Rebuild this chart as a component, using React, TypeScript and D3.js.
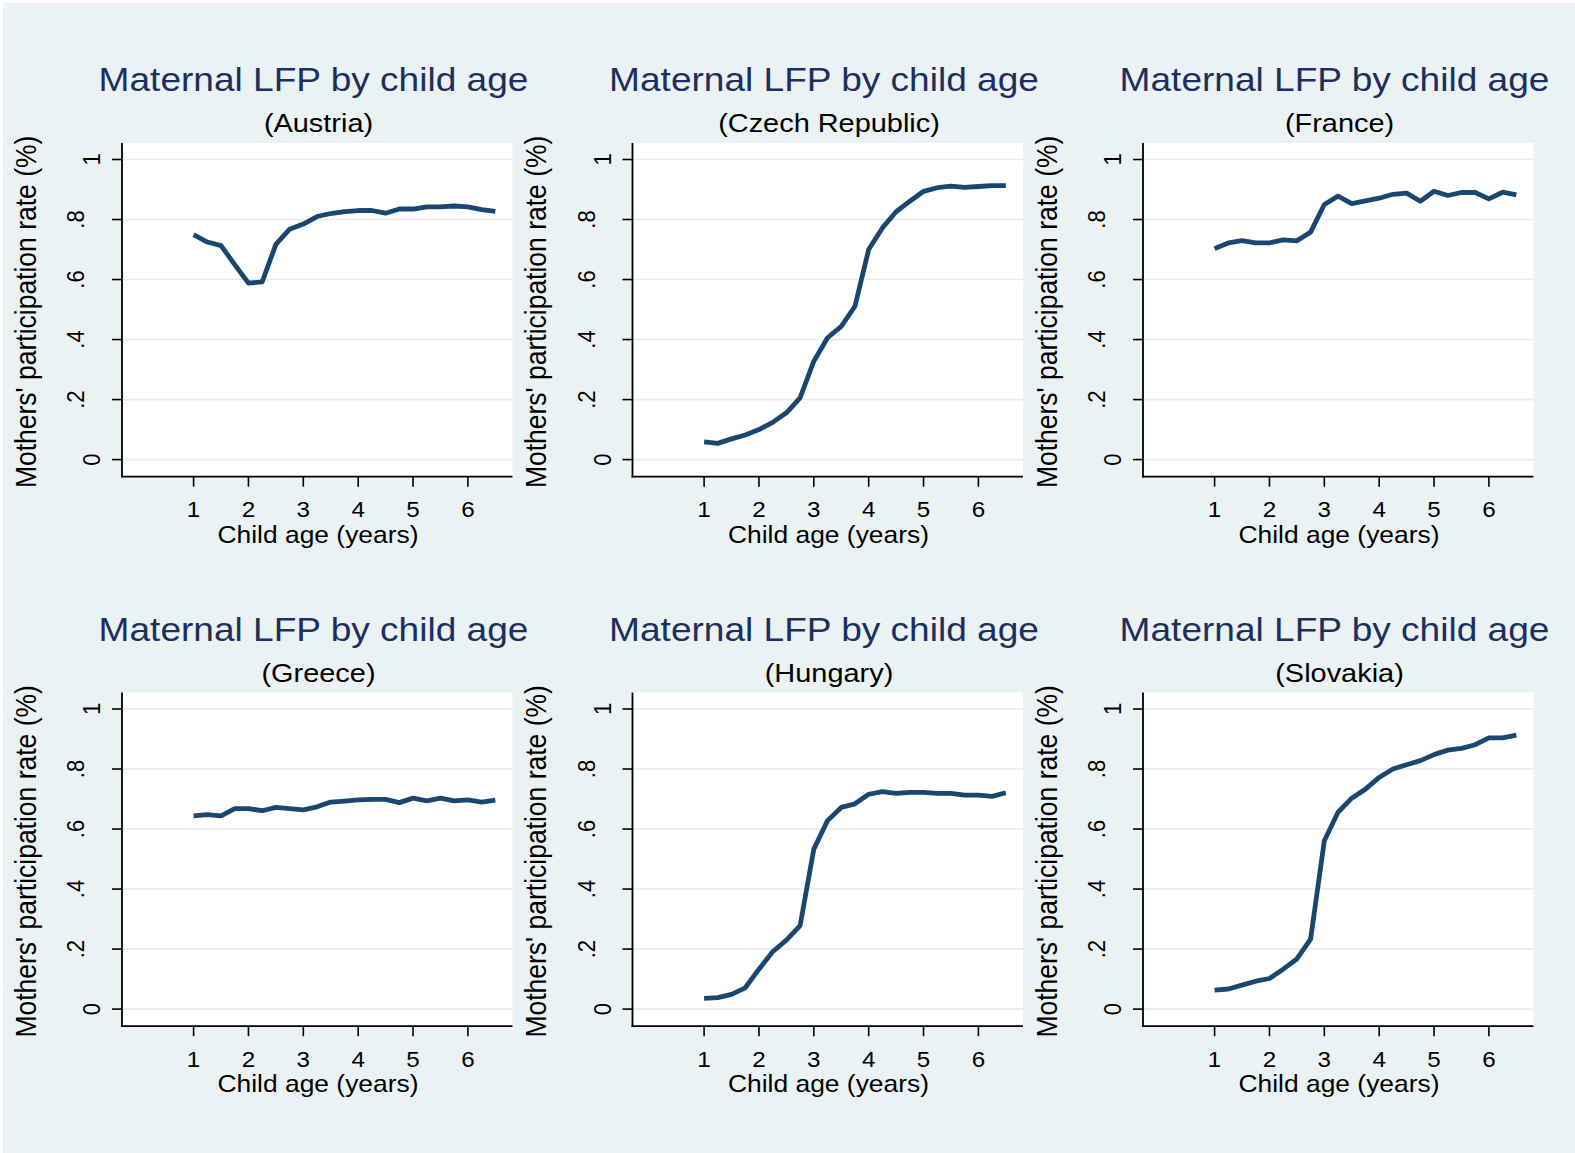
import React from "react";
import * as d3 from "d3";

// ---- data ----
const ages = [1, 1.25, 1.5, 1.75, 2, 2.25, 2.5, 2.75, 3, 3.25, 3.5, 3.75, 4, 4.25, 4.5, 4.75, 5, 5.25, 5.5, 5.75, 6, 6.25, 6.5];
const countries = ["Austria", "Czech Republic", "France", "Greece", "Hungary", "Slovakia"];
const austria = [0.75, 0.725, 0.713, 0.65, 0.588, 0.592, 0.717, 0.768, 0.785, 0.81, 0.82, 0.826, 0.83, 0.83, 0.821, 0.835, 0.835, 0.842, 0.842, 0.845, 0.842, 0.833, 0.827];
const czech = [0.059, 0.054, 0.069, 0.082, 0.1, 0.124, 0.156, 0.206, 0.328, 0.406, 0.444, 0.511, 0.7, 0.772, 0.826, 0.861, 0.894, 0.906, 0.911, 0.907, 0.91, 0.913, 0.913];
const france = [0.703, 0.722, 0.73, 0.722, 0.722, 0.732, 0.729, 0.758, 0.85, 0.878, 0.853, 0.862, 0.871, 0.884, 0.888, 0.861, 0.894, 0.88, 0.89, 0.89, 0.869, 0.891, 0.882];
const greece = [0.644, 0.648, 0.644, 0.668, 0.668, 0.661, 0.672, 0.668, 0.664, 0.674, 0.69, 0.693, 0.697, 0.699, 0.699, 0.688, 0.703, 0.694, 0.703, 0.694, 0.697, 0.69, 0.696];
const hungary = [0.036, 0.038, 0.049, 0.071, 0.133, 0.191, 0.23, 0.278, 0.533, 0.628, 0.672, 0.684, 0.716, 0.725, 0.719, 0.722, 0.722, 0.719, 0.719, 0.713, 0.713, 0.709, 0.721];
const slovakia = [0.063, 0.067, 0.08, 0.093, 0.102, 0.133, 0.167, 0.233, 0.561, 0.656, 0.703, 0.733, 0.772, 0.8, 0.814, 0.828, 0.848, 0.863, 0.869, 0.881, 0.904, 0.904, 0.913];
const seriesList = [austria, czech, france, greece, hungary, slovakia];
const xTicks = [1, 2, 3, 4, 5, 6];
const yTicks = [0, 0.2, 0.4, 0.6, 0.8, 1];
const yTickLabels = ["0", ".2", ".4", ".6", ".8", "1"];
const titleText = "Maternal LFP by child age";
const xTitle = "Child age (years)";
const yTitle = "Mothers' participation rate (%)";

// ---- layout ----
const W = 1575;
const H = 1153;
const colX = [0, 510.5, 1021];
const rowY = [0, 549.5];
const PL = 122, PR = 512.5, PT = 143, PB = 476.7;
const FONT = "'Liberation Sans', Arial, Helvetica, sans-serif";
const SX = 1.1;
const BG = "#eaf2f3";
const LINE = "#1a476f";
const TITLE_C = "#1c2f5e";

const xScale = d3.scaleLinear().domain([-0.305, 6.813]).range([PL, PR]);
const yScale = d3.scaleLinear().domain([-0.057, 1.055]).range([PB, PT]);

function Panel({ idx }: { idx: number }) {
  const col = idx % 3;
  const row = Math.floor(idx / 3);
  const ox = colX[col];
  const oy = rowY[row];
  const vals = seriesList[idx];
  const pts = ages.map((a, i) => [a, vals[i]] as [number, number]);
  const line = d3
    .line<[number, number]>()
    .x((d) => xScale(d[0]))
    .y((d) => yScale(d[1]));
  const yMid = (PT + PB) / 2;
  return (
    <g transform={`translate(${ox},${oy})`}>
      <rect x={PL} y={PT} width={PR - PL} height={PB - PT} fill="#ffffff" />
      {yTicks.map((t) => (
        <line key={"g" + t} x1={PL} x2={PR} y1={yScale(t)} y2={yScale(t)} stroke="#e4ecef" strokeWidth={1.6} />
      ))}
      <path d={line(pts) || ""} fill="none" stroke={LINE} strokeWidth={4.8} strokeLinejoin="round" />
      {/* axes */}
      <line x1={PL} x2={PL} y1={PT} y2={PB + 0.9} stroke="#000" strokeWidth={1.8} />
      <line x1={PL - 0.9} x2={PR} y1={PB} y2={PB} stroke="#000" strokeWidth={1.8} />
      {yTicks.map((t, i) => (
        <g key={"yt" + t}>
          <line x1={PL - 10} x2={PL} y1={yScale(t)} y2={yScale(t)} stroke="#000" strokeWidth={1.6} />
          <text
            transform={`translate(${yTickLabels[i].startsWith(".") ? 84 : 100},${yScale(t)}) scale(${SX},1) rotate(-90)`}
            textAnchor="middle"
            fontFamily={FONT}
            fontSize={22}
            fill="#000"
          >
            {yTickLabels[i]}
          </text>
        </g>
      ))}
      {xTicks.map((t) => (
        <g key={"xt" + t}>
          <line x1={xScale(t)} x2={xScale(t)} y1={PB} y2={PB + 10} stroke="#000" strokeWidth={1.6} />
          <text
            transform={`translate(${xScale(t)},517) scale(${SX},1)`}
            textAnchor="middle"
            fontFamily={FONT}
            fontSize={22}
            fill="#000"
          >
            {t}
          </text>
        </g>
      ))}
      <text transform={`translate(318,542.7) scale(${SX},1)`} textAnchor="middle" fontFamily={FONT} fontSize={24} fill="#000">
        {xTitle}
      </text>
      <text
        transform={`translate(35.5,${yMid + 2}) scale(${SX},1) rotate(-90)`}
        textAnchor="middle"
        fontFamily={FONT}
        fontSize={26.5}
        fill="#000"
      >
        {yTitle}
      </text>
      <text transform={`translate(313.5,91) scale(${SX},1)`} textAnchor="middle" fontFamily={FONT} fontSize={33.7} fill={TITLE_C}>
        {titleText}
      </text>
      <text transform={`translate(318.5,132) scale(${SX},1)`} textAnchor="middle" fontFamily={FONT} fontSize={26.3} fill="#000">
        {`(${countries[idx]})`}
      </text>
    </g>
  );
}

export default function App() {
  return (
    <div style={{ position: "absolute", left: 0, top: 0, width: W, height: H }}>
      <svg width={W} height={H} viewBox={`0 0 ${W} ${H}`} style={{ display: "block" }}>
        <rect x={0} y={0} width={W} height={H} fill="#ffffff" />
        <rect x={3} y={3} width={W - 3} height={H - 3} fill={BG} />
        {countries.map((c, i) => (
          <Panel key={c} idx={i} />
        ))}
      </svg>
    </div>
  );
}
